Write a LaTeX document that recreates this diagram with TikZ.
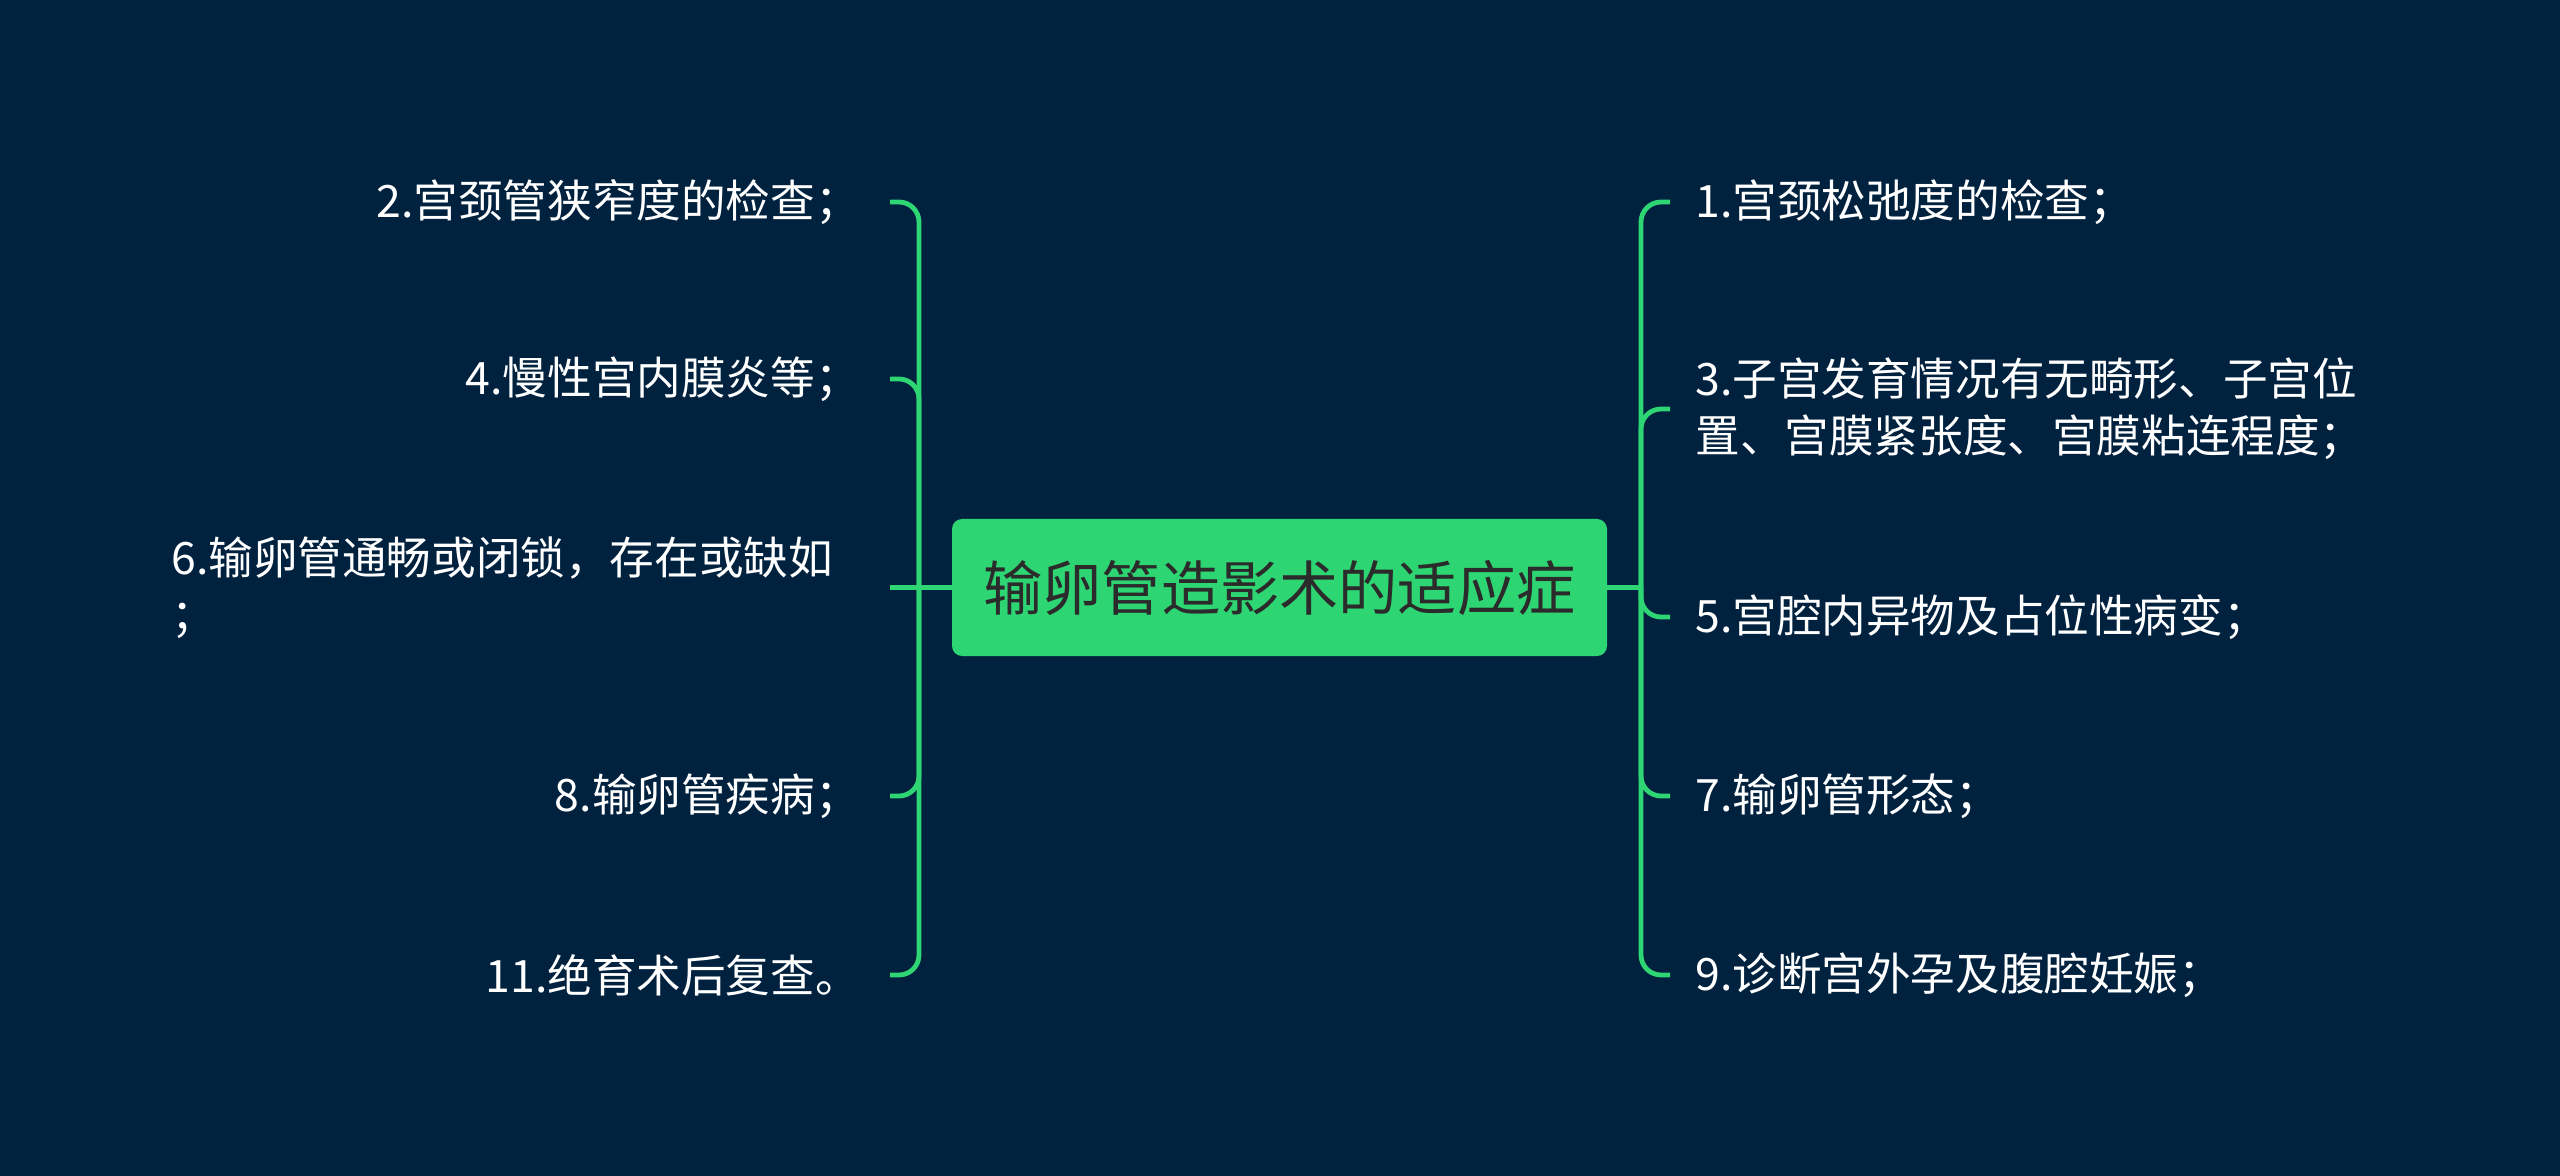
\documentclass[tikz,border=0pt]{standalone}
\usepackage{fontspec}
\setmainfont{Noto Sans CJK SC}
\definecolor{bgc}{HTML}{01223F}
\definecolor{lineg}{HTML}{2ED573}
\definecolor{nodeg}{HTML}{2ED573}
\definecolor{titlec}{HTML}{2B2B2B}
\begin{document}
\begin{tikzpicture}[x=0.5pt,y=-0.5pt,
  conn/.style={draw=lineg, line width=2.4pt},
  leaf/.style={text=white, inner sep=0pt, font=\fontsize{22.3}{28.5}\selectfont},
  root/.style={fill=nodeg, rounded corners=5pt, text=titlec, minimum width=327.5pt,
    minimum height=68.5pt, inner sep=0pt, font=\fontsize{29.6}{35}\selectfont}]
\fill[bgc] (0,0) rectangle (2560,1176);
\useasboundingbox (0,0) rectangle (2560,1176);

\node[root] (c) at (1279.5,587.5) {输卵管造影术的适应症};

\coordinate (tl) at (919,587.5);
\coordinate (tr) at (1641,587.5);
\coordinate (e2) at (890,202);
\coordinate (e4) at (890,379);
\coordinate (e6) at (890,587.5);
\coordinate (e8) at (890,796);
\coordinate (e11) at (890,975);
\coordinate (e1) at (1670,202);
\coordinate (e3) at (1670,409);
\coordinate (e5) at (1670,617);
\coordinate (e7) at (1670,796);
\coordinate (e9) at (1670,975);

\draw[conn] (c.west) -- (e6);
\draw[conn] (c.east) -- (tr);
\foreach \e in {e2,e4,e8,e11} \draw[conn, rounded corners=10pt] (tl) |- (\e);
\foreach \e in {e1,e3,e5,e7,e9} \draw[conn, rounded corners=10pt] (tr) |- (\e);

\node[leaf, anchor=east] (n2) at (860,202) {2.宫颈管狭窄度的检查；};
\node[leaf, anchor=east] (n4) at (860,379) {4.慢性宫内膜炎等；};
\node[leaf, anchor=west, align=left] (n6) at (171,587.5) {6.输卵管通畅或闭锁，存在或缺如\\；};
\node[leaf, anchor=east] (n8) at (860,796) {8.输卵管疾病；};
\node[leaf, anchor=east] (n11) at (860,975) {11.绝育术后复查。};

\node[leaf, anchor=west] (n1) at (1695,202) {1.宫颈松弛度的检查；};
\node[leaf, anchor=west, align=left] (n3) at (1695,409) {3.子宫发育情况有无畸形、子宫位\\置、宫膜紧张度、宫膜粘连程度；};
\node[leaf, anchor=west] (n5) at (1695,617) {5.宫腔内异物及占位性病变；};
\node[leaf, anchor=west] (n7) at (1695,796) {7.输卵管形态；};
\node[leaf, anchor=west] (n9) at (1695,975) {9.诊断宫外孕及腹腔妊娠；};
\end{tikzpicture}
\end{document}
